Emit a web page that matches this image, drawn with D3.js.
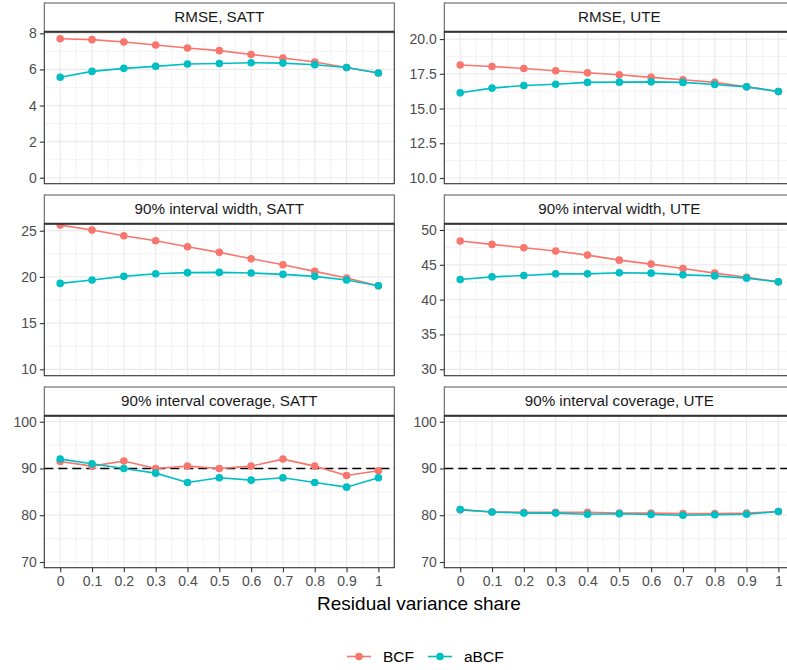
<!DOCTYPE html>
<html>
<head>
<meta charset="utf-8">
<script src="https://cdn.jsdelivr.net/npm/d3@7"></script>
<style>
body { margin: 0; overflow: hidden; background: #fff; }
text { font-family: "Liberation Sans", Arial, sans-serif; }
</style>
</head>
<body>
<svg id="chart"></svg>
<script>
var shares = [0, 0.1, 0.2, 0.3, 0.4, 0.5, 0.6, 0.7, 0.8, 0.9, 1];
var shareLabels = ["0", "0.1", "0.2", "0.3", "0.4", "0.5", "0.6", "0.7", "0.8", "0.9", "1"];
var methods = ["BCF", "aBCF"];
var methodColors = ["#F8766D", "#00BFC4"];

var panelTitles = ["RMSE, SATT", "RMSE, UTE", "90% interval width, SATT", "90% interval width, UTE",
                   "90% interval coverage, SATT", "90% interval coverage, UTE"];

// values
var bcfRmseSatt  = [7.70, 7.65, 7.52, 7.35, 7.19, 7.04, 6.83, 6.63, 6.41, 6.11, 5.80];
var abcfRmseSatt = [5.57, 5.89, 6.06, 6.17, 6.30, 6.33, 6.37, 6.35, 6.26, 6.11, 5.80];
var bcfRmseUte   = [18.13, 18.03, 17.88, 17.72, 17.57, 17.43, 17.24, 17.07, 16.88, 16.56, 16.23];
var abcfRmseUte  = [16.13, 16.47, 16.66, 16.75, 16.88, 16.90, 16.92, 16.88, 16.73, 16.56, 16.23];
var bcfWidthSatt  = [25.61, 25.07, 24.46, 23.92, 23.27, 22.66, 21.97, 21.32, 20.60, 19.88, 19.05];
var abcfWidthSatt = [19.30, 19.66, 20.06, 20.35, 20.46, 20.49, 20.42, 20.28, 20.06, 19.66, 19.05];
var bcfWidthUte   = [48.41, 47.93, 47.45, 46.97, 46.39, 45.67, 45.10, 44.47, 43.80, 43.22, 42.55];
var abcfWidthUte  = [42.88, 43.27, 43.46, 43.70, 43.70, 43.85, 43.80, 43.56, 43.41, 43.08, 42.55];
var bcfCovSatt  = [91.5, 90.5, 91.6, 90.0, 90.5, 90.0, 90.5, 92.0, 90.5, 88.5, 89.5];
var abcfCovSatt = [92.0, 91.0, 90.0, 89.0, 87.0, 88.0, 87.5, 88.0, 87.0, 86.0, 88.0];
var bcfCovUte   = [81.15, 80.7, 80.65, 80.65, 80.65, 80.45, 80.45, 80.35, 80.35, 80.45, 80.8];
var abcfCovUte  = [81.2, 80.7, 80.45, 80.45, 80.2, 80.3, 80.15, 80.0, 80.1, 80.2, 80.8];

var yTicks = [[0, 2, 4, 6, 8], [10, 12.5, 15, 17.5, 20], [10, 15, 20, 25], [30, 35, 40, 45, 50],
              [70, 80, 90, 100], [70, 80, 90, 100]];
var yTickLabels = [["0", "2", "4", "6", "8"], ["10.0", "12.5", "15.0", "17.5", "20.0"],
                   ["10", "15", "20", "25"], ["30", "35", "40", "45", "50"],
                   ["70", "80", "90", "100"], ["70", "80", "90", "100"]];
var targetLine = [null, null, null, null, 90, 90];

var seriesByPanel = [[bcfRmseSatt, abcfRmseSatt], [bcfRmseUte, abcfRmseUte],
                     [bcfWidthSatt, abcfWidthSatt], [bcfWidthUte, abcfWidthUte],
                     [bcfCovSatt, abcfCovSatt], [bcfCovUte, abcfCovUte]];

// visible y ranges of the panels
var yDomains = [[-0.33, 8.09], [9.59, 20.53], [9.31, 25.76], [29.08, 50.9], [68.78, 101.28], [68.78, 101.28]];

var W = 850, H = 670;
var panelW = 350, panelH = 152, stripH = 28.7;
var colX = [44.3, 444.3];
var rowY = [3, 195, 387];

var svg = d3.select("#chart").attr("width", W).attr("height", H);

var x = d3.scaleLinear().domain([-0.05, 1.05]).range([0, panelW]);
var minorX = d3.range(0.05, 1, 0.1);

panelTitles.forEach(function(title, i) {
  var col = i % 2, row = Math.floor(i / 2);
  var px = colX[col], sy = rowY[row], py = sy + stripH;
  var y = d3.scaleLinear().domain(yDomains[i]).range([panelH, 0]);
  var g = svg.append("g").attr("transform", "translate(" + px + "," + py + ")");

  // minor grid
  var t = yTicks[i], step = t[1] - t[0];
  var minorY = [];
  for (var k = t[0] - step / 2; k <= t[t.length - 1] + step / 2; k += step) {
    if (k > yDomains[i][0] && k < yDomains[i][1]) minorY.push(k);
  }
  g.selectAll(".mx").data(minorX).enter().append("line")
    .attr("x1", function(d) { return x(d); }).attr("x2", function(d) { return x(d); })
    .attr("y1", 0).attr("y2", panelH).attr("stroke", "#ebebeb").attr("stroke-width", 0.6);
  g.selectAll(".my").data(minorY).enter().append("line")
    .attr("y1", function(d) { return y(d); }).attr("y2", function(d) { return y(d); })
    .attr("x1", 0).attr("x2", panelW).attr("stroke", "#ebebeb").attr("stroke-width", 0.6);
  // major grid
  g.selectAll(".gx").data(shares).enter().append("line")
    .attr("x1", function(d) { return x(d); }).attr("x2", function(d) { return x(d); })
    .attr("y1", 0).attr("y2", panelH).attr("stroke", "#ebebeb").attr("stroke-width", 1.2);
  g.selectAll(".gy").data(t).enter().append("line")
    .attr("y1", function(d) { return y(d); }).attr("y2", function(d) { return y(d); })
    .attr("x1", 0).attr("x2", panelW).attr("stroke", "#ebebeb").attr("stroke-width", 1.2);

  if (targetLine[i] != null) {
    g.append("line").attr("x1", 0).attr("x2", panelW)
      .attr("y1", y(targetLine[i])).attr("y2", y(targetLine[i]))
      .attr("stroke", "#000").attr("stroke-width", 1.6).attr("stroke-dasharray", "9,5");
  }

  var line = d3.line().x(function(d, j) { return x(shares[j]); }).y(function(d) { return y(d); });
  seriesByPanel[i].forEach(function(vals, m) {
    g.append("path").datum(vals).attr("d", line).attr("fill", "none")
      .attr("stroke", methodColors[m]).attr("stroke-width", 1.6);
    g.selectAll(".pt" + m).data(vals).enter().append("circle")
      .attr("cx", function(d, j) { return x(shares[j]); })
      .attr("cy", function(d) { return y(d); })
      .attr("r", 3.8).attr("fill", methodColors[m]);
  });

  // y axis
  var yAxis = d3.axisLeft(y).tickValues(t).tickSize(4.5).tickPadding(3)
    .tickFormat(function(d, j) { return yTickLabels[i][j]; });
  var ya = g.append("g").call(yAxis);
  ya.select(".domain").remove();
  ya.selectAll("line").attr("stroke", "#333").attr("stroke-width", 1.1);
  ya.selectAll("text").attr("fill", "#4d4d4d").style("font-size", "14px")
    .style("font-family", "Liberation Sans, Arial, sans-serif");

  if (row == 2) {
    var xAxis = d3.axisBottom(x).tickValues(shares).tickSize(4.5).tickPadding(4)
      .tickFormat(function(d, j) { return shareLabels[j]; });
    var xa = g.append("g").attr("transform", "translate(0," + panelH + ")").call(xAxis);
    xa.select(".domain").remove();
    xa.selectAll("line").attr("stroke", "#333").attr("stroke-width", 1.1);
    xa.selectAll("text").attr("fill", "#4d4d4d").style("font-size", "14px")
      .style("font-family", "Liberation Sans, Arial, sans-serif");
  }

  // panel border
  g.append("rect").attr("x", 0).attr("y", 0).attr("width", panelW).attr("height", panelH)
    .attr("fill", "none").attr("stroke", "#333").attr("stroke-width", 1.1);

  // strip
  svg.append("rect").attr("x", px).attr("y", sy).attr("width", panelW).attr("height", stripH)
    .attr("fill", "#fff").attr("stroke", "#555").attr("stroke-width", 1);
  svg.append("line").attr("x1", px).attr("x2", px + panelW).attr("y1", py).attr("y2", py)
    .attr("stroke", "#333").attr("stroke-width", 2);
  svg.append("text").attr("x", px + panelW / 2).attr("y", sy + stripH / 2 + 5)
    .attr("text-anchor", "middle").attr("fill", "#1a1a1a").style("font-size", "15.2px")
    .text(title);
});

// axis title
svg.append("text").attr("x", 419).attr("y", 610).attr("text-anchor", "middle")
  .attr("fill", "#000").style("font-size", "19px").text("Residual variance share");

// legend
var legend = svg.append("g");
var lx = 347, ly = 656.5;
methods.forEach(function(name, m) {
  var item = legend.append("g").attr("transform", "translate(" + lx + "," + ly + ")");
  item.append("line").attr("x1", 0).attr("x2", 24).attr("y1", 0).attr("y2", 0)
    .attr("stroke", methodColors[m]).attr("stroke-width", 1.6);
  item.append("circle").attr("cx", 12).attr("cy", 0).attr("r", 3.8).attr("fill", methodColors[m]);
  var txt = item.append("text").attr("x", 36).attr("y", 5.5).attr("fill", "#000")
    .style("font-size", "15.5px").text(name);
  lx += 36 + txt.node().getComputedTextLength() + 14;
});
</script>
</body>
</html>
